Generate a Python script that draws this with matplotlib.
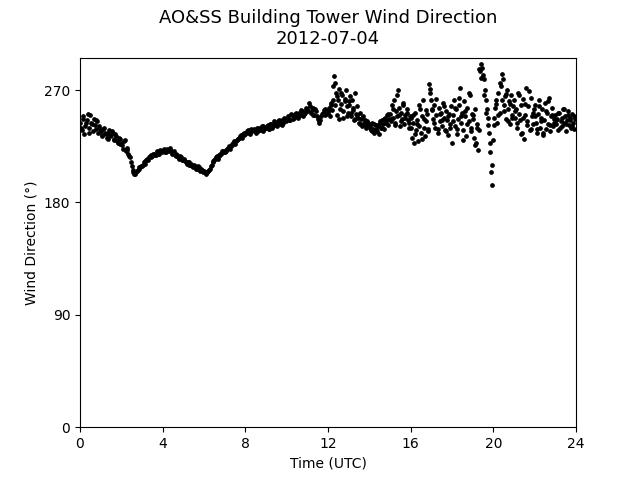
import numpy as np
import matplotlib
matplotlib.use('Agg')
import matplotlib.pyplot as plt

# Wind direction (deg), 00-12 UTC, readings on the 5-minute marks
wd_morning = [
    244, 238, 249, 241, 246, 236, 250, 243, 247, 239, 245, 241,  # 00
    237, 233, 240, 235, 231, 238, 234, 236, 230, 233, 228, 231,  # 01
    228, 223, 230, 224, 219, 216, 209, 204, 203, 205, 207, 208,  # 02
    209, 212, 213, 215, 216, 218, 217, 219, 218, 220, 219, 221,  # 03
    221, 223, 220, 222, 224, 221, 220, 218, 219, 216, 217, 215,  # 04
    214, 213, 211, 212, 210, 209, 210, 208, 207, 208, 206, 206,  # 05
    205, 203, 204, 206, 209, 212, 214, 216, 215, 218, 219, 221,  # 06
    220, 222, 224, 223, 226, 228, 227, 230, 231, 233, 232, 234,  # 07
    235, 237, 236, 238, 237, 239, 236, 238, 240, 238, 241, 239,  # 08
    240, 242, 239, 243, 241, 244, 242, 245, 243, 246, 244, 247,  # 09
    247, 249, 246, 250, 248, 251, 249, 252, 250, 253, 251, 254,  # 10
    255, 260, 252, 256, 250, 253, 247, 244, 249, 252, 255, 251,  # 11
]

# Wind direction (deg), 00-12 UTC, readings half-way between the 5-minute marks
wd_morning_b = [
    240, 247, 235, 244, 251, 240, 244, 237, 242, 246, 236, 239,  # 00
    234, 239, 236, 232, 236, 233, 237, 231, 235, 229, 232, 227,  # 01
    226, 229, 221, 222, 217, 212, 206, 203, 204, 206, 208, 209,  # 02
    210, 211, 214, 214, 217, 216, 219, 218, 221, 219, 222, 220,  # 03
    222, 220, 223, 221, 222, 219, 221, 217, 218, 215, 216, 214,  # 04
    215, 212, 212, 210, 211, 208, 209, 207, 209, 205, 207, 204,  # 05
    204, 204, 205, 207, 210, 213, 215, 217, 217, 219, 221, 220,  # 06
    221, 223, 225, 225, 227, 229, 229, 231, 232, 234, 235, 236,  # 07
    236, 238, 235, 239, 238, 237, 240, 237, 239, 241, 237, 240,  # 08
    241, 239, 243, 240, 245, 243, 241, 246, 244, 242, 248, 245,  # 09
    248, 246, 251, 247, 249, 252, 248, 250, 254, 249, 252, 256,  # 10
    253, 257, 254, 250, 255, 249, 245, 246, 251, 254, 250, 253,  # 11
]

# Wind direction (deg), 12-24 UTC, readings every 3 minutes
wd_afternoon = [
    252, 256, 249, 258, 254, 262, 281, 276, 268, 250, 262, 271, 255, 259, 266, 248, 263, 270, 257, 252,  # 12
    258, 265, 249, 262, 254, 246, 268, 251, 257, 248, 244, 252, 247, 241, 249, 243, 246, 240, 245, 242,  # 13
    243, 240, 238, 244, 239, 236, 242, 237, 241, 235, 244, 240, 246, 243, 239, 248, 245, 250, 242, 247,  # 14
    251, 245, 258, 248, 262, 244, 253, 249, 270, 256, 241, 252, 247, 260, 243, 250, 255, 246, 240, 249,  # 15
    248, 232, 244, 228, 252, 238, 246, 229, 241, 255, 236, 249, 262, 240, 233, 245, 251, 237, 275, 268,  # 16
    262, 254, 247, 258, 240, 250, 236, 256, 245, 252, 241, 260, 248, 238, 253, 246, 234, 251, 243, 257,  # 17
    228, 250, 262, 241, 255, 235, 247, 258, 272, 244, 252, 238, 261, 249, 233, 256, 245, 266, 240, 251,  # 18
    247, 232, 255, 228, 243, 222, 238, 285, 291, 288, 282, 279, 270, 262, 255, 248, 236, 220, 204, 194,  # 19
    230, 248, 256, 262, 244, 268, 252, 273, 283, 279, 258, 265, 247, 270, 255, 261, 243, 266, 250, 257,  # 20
    262, 248, 255, 240, 268, 251, 246, 258, 236, 263, 231, 250, 272, 245, 257, 238, 264, 249, 243, 255,  # 21
    258, 244, 236, 251, 262, 240, 248, 255, 234, 246, 260, 239, 252, 243, 264, 237, 249, 256, 241, 247,  # 22
    250, 243, 247, 238, 252, 245, 241, 255, 244, 249, 237, 246, 253, 242, 248, 240, 251, 244, 239, 247,  # 23
]

# Wind direction (deg), 12-24 UTC, extra readings every 6 minutes (offset 1.5 min)
wd_afternoon_b = [
    254, 260, 273, 258, 265, 247, 268, 253, 261, 249,  # 12
    261, 252, 256, 247, 250, 243, 248, 244, 241, 244,  # 13
    241, 237, 243, 239, 242, 245, 240, 247, 244, 251,  # 14
    247, 255, 242, 266, 250, 245, 258, 248, 252, 244,  # 15
    240, 250, 235, 243, 258, 231, 247, 254, 239, 271,  # 16
    255, 244, 263, 239, 251, 246, 257, 237, 249, 240,  # 17
    245, 256, 239, 264, 249, 230, 253, 243, 268, 237,  # 18
    250, 226, 240, 287, 280, 266, 252, 242, 228, 210,  # 19
    242, 259, 250, 276, 262, 253, 267, 245, 259, 248,  # 20
    253, 244, 266, 235, 248, 259, 242, 269, 239, 252,  # 21
    249, 239, 257, 245, 236, 253, 261, 242, 250, 244,  # 22
    246, 252, 240, 248, 255, 243, 250, 246, 241, 249,  # 23
]

t_morning = np.arange(len(wd_morning)) * 5 / 60.0
t_morning_b = (2.5 + np.arange(len(wd_morning_b)) * 5) / 60.0
t_afternoon = 12 + np.arange(len(wd_afternoon)) * 3 / 60.0
t_afternoon_b = 12 + (1.5 + np.arange(len(wd_afternoon_b)) * 6) / 60.0

fig, ax = plt.subplots(figsize=(6.4, 4.8), dpi=100)
for t, wd in [(t_morning, wd_morning), (t_morning_b, wd_morning_b),
              (t_afternoon, wd_afternoon), (t_afternoon_b, wd_afternoon_b)]:
    ax.plot(t, wd, 'ko', markersize=2.4)

ax.set_xlim(0, 24)
ax.set_ylim(0, 296)
ax.set_xticks([0, 4, 8, 12, 16, 20, 24])
ax.set_yticks([0, 90, 180, 270])
ax.set_xlabel('Time (UTC)')
ax.set_ylabel('Wind Direction (°)')
ax.set_title('AO&SS Building Tower Wind Direction\n2012-07-04', fontsize=13, pad=10)

fig.savefig('out.png', dpi=100)
